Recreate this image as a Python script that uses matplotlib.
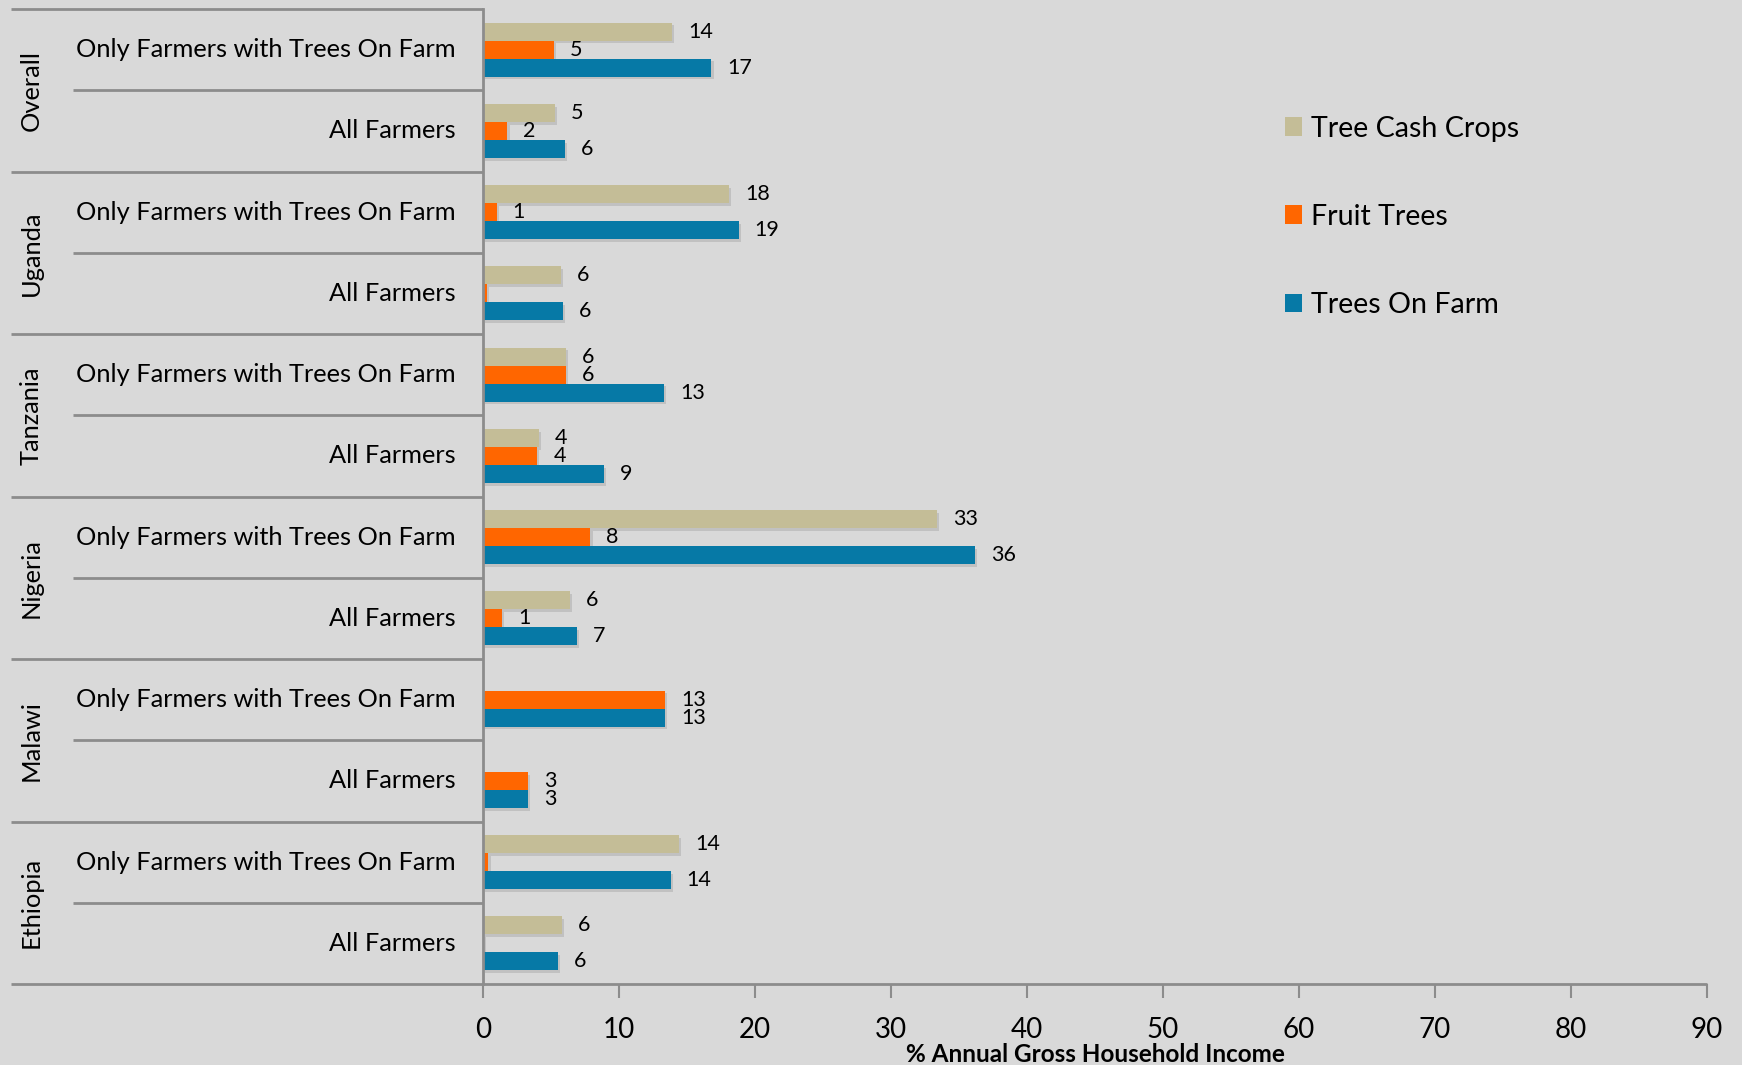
import numpy as np
import matplotlib
matplotlib.use('Agg')
import matplotlib.pyplot as plt
import matplotlib.patheffects as pe
from matplotlib.patches import Patch

# Share of annual gross household income from trees, by country and farmer group
countries = ['Overall', 'Uganda', 'Tanzania', 'Nigeria', 'Malawi', 'Ethiopia']
groups = ['Only Farmers with Trees On Farm', 'All Farmers']

tree_cash_crops = [13.9, 5.3, 18.1, 5.7, 6.1, 4.1, 33.4, 6.4, 0.0, 0.0, 14.4, 5.8]
fruit_trees = [5.2, 1.8, 1.0, 0.3, 6.1, 4.0, 7.9, 1.4, 13.4, 3.3, 0.4, 0.1]
trees_on_farm = [16.8, 6.0, 18.8, 5.9, 13.3, 8.9, 36.2, 6.9, 13.4, 3.3, 13.8, 5.5]

series = [
    ('Tree Cash Crops', tree_cash_crops, '#c4bd97'),
    ('Fruit Trees', fruit_trees, '#ff6600'),
    ('Trees On Farm', trees_on_farm, '#0679a6'),
]

BG = '#d9d9d9'
LINE = '#8c8c8c'
FONT = ['Lato', 'DejaVu Sans']
plt.rcParams['font.family'] = FONT
LABEL_SIZE = 18.3

W, H = 1742, 1065
fig = plt.figure(figsize=(W / 100, H / 100), dpi=100, facecolor=BG)
ax_left, ax_right, ax_top, ax_bottom = 483, 1707, 9, 984
ax = fig.add_axes([ax_left / W, 1 - ax_bottom / H,
                   (ax_right - ax_left) / W, (ax_bottom - ax_top) / H])
ax.set_facecolor(BG)

n = len(countries) * len(groups)
y = np.arange(n)
bar_h = 0.222
offsets = [-bar_h, 0, bar_h]

shadow = [pe.SimplePatchShadow(offset=(1.5, -2), shadow_rgbFace='#8a8a8a', alpha=0.3),
          pe.Normal()]

for (name, vals, color), off in zip(series, offsets):
    bars = ax.barh(y + off, vals, height=bar_h, color=color, label=name,
                   edgecolor='none')
    for b, v in zip(bars, vals):
        if v > 0:
            b.set_path_effects(shadow)
        if round(v) >= 1:
            ax.annotate(f'{v:.0f}', xy=(v, b.get_y() + b.get_height() / 2),
                        xytext=(11.5, 0), textcoords='offset points',
                        ha='left', va='center', fontsize=15.5, color='black')

ax.set_xlim(0, 90)
ax.set_ylim(n - 0.5, -0.5)
ax.set_xticks(range(0, 91, 10))
ax.tick_params(axis='x', length=10, width=1.5, color=LINE, pad=14,
               labelsize=20, labelcolor='black')
ax.set_yticks([])
for s in ['top', 'right', 'bottom']:
    ax.spines[s].set_visible(False)
ax.spines['left'].set_color(LINE)
ax.spines['left'].set_linewidth(2)

ax.set_xlabel('% Annual Gross Household Income', fontsize=17.5, fontweight='bold',
              labelpad=0)

# hierarchical category axis on the left
trans = ax.get_yaxis_transform()
axw = ax_right - ax_left
x_outer = (11 - ax_left) / axw
x_inner = (73 - ax_left) / axw
x_text = (456 - ax_left) / axw
x_country = (31 - ax_left) / axw

for i in range(n):
    ax.text(x_text, i, groups[i % 2], transform=trans, ha='right', va='center',
            fontsize=LABEL_SIZE, color='black')

for k, c in enumerate(countries):
    ax.text(x_country, 2 * k + 0.5, c, transform=trans, rotation=90,
            ha='center', va='center', fontsize=LABEL_SIZE, color='black')
    top = 2 * k - 0.5
    ax.plot([x_outer, 0], [top, top], transform=trans, color=LINE, lw=2,
            clip_on=False, solid_capstyle='butt')
    ax.plot([x_inner, 0], [top + 1, top + 1], transform=trans, color=LINE, lw=2,
            clip_on=False, solid_capstyle='butt')

# bottom axis line running under the category labels as well
ax.plot([x_outer, 1], [n - 0.5, n - 0.5], transform=trans, color=LINE, lw=2,
        clip_on=False, solid_capstyle='butt')

handles = [Patch(facecolor=c, edgecolor='none', label=nm) for nm, _, c in series]
fig.legend(handles=handles, loc='upper left',
           bbox_to_anchor=(1259 / W, 1 - 90 / H), frameon=False, fontsize=20.6,
           handlelength=0.62, handleheight=0.62, handletextpad=0.3,
           labelspacing=2.17)

fig.savefig('out.png', dpi=100, facecolor=BG)
